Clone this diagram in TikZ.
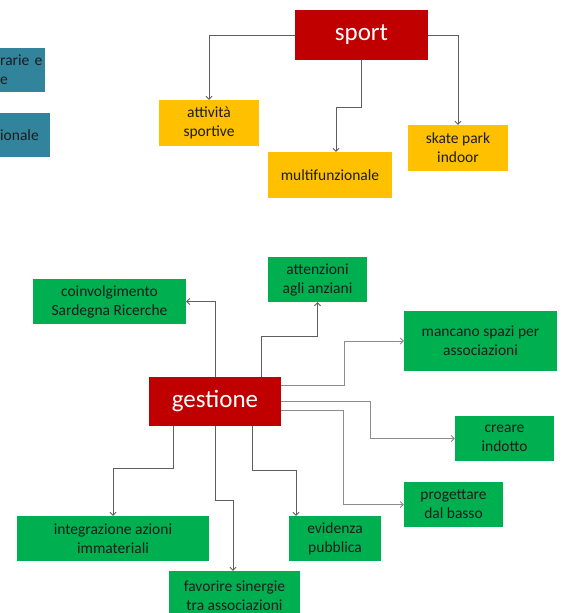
\documentclass[tikz,border=0pt]{standalone}
\usepackage{fontspec}
\setmainfont{Carlito}
\usepackage{tikz}
\usetikzlibrary{arrows.meta}
\definecolor{boxred}{HTML}{C00000}
\definecolor{boxorange}{HTML}{FFC000}
\definecolor{boxgreen}{HTML}{00B050}
\definecolor{boxteal}{HTML}{31849B}
\definecolor{boxtext}{HTML}{1C1C1C}
\definecolor{linegray}{HTML}{5E5E5E}
\definecolor{lightline}{HTML}{8C8C8C}

\begin{document}
\begin{tikzpicture}[x=1pt, y=-1pt,
    base/.style={inner sep=0pt, align=center, text=boxtext,
      font=\fontsize{15.5}{19}\selectfont},
    topic/.style={base, fill=boxred, text=white,
      font=\fontsize{25}{30}\selectfont},
    sportbox/.style={base, fill=boxorange},
    gestbox/.style={base, fill=boxgreen},
    tealbox/.style={base, fill=boxteal, anchor=north west, align=left},
    arrow/.style={-{Straight Barb[length=3pt, width=6pt]},
      line width=0.8pt, color=linegray},
    arrowlight/.style={arrow, color=lightline},
]
\path[use as bounding box, fill=white] (0,0) rectangle (563,613);

\node[tealbox, text width=45pt, minimum height=44pt] (orario) at (0,48)
    {rarie e\\e};
\node[tealbox, text width=50pt, minimum height=44pt] (regionale) at (0,113)
    {ionale};

\node[topic, minimum width=133pt, minimum height=50pt] (sport) at (361.5,35)
    {sport};
\node[sportbox, minimum width=100pt, minimum height=46pt] (attivita) at (209,123)
    {attività\\sportive};
\node[sportbox, minimum width=124pt, minimum height=46pt] (multi) at (330,175)
    {multifunzionale};
\node[sportbox, minimum width=100pt, minimum height=46pt] (skate) at (458,148)
    {skate park\\indoor};

\node[topic, minimum width=132pt, minimum height=49pt] (gestione) at (215,401.5)
    {gestione};
\node[gestbox, minimum width=153pt, minimum height=45pt] (coinvolgimento) at (109.5,301.5)
    {coinvolgimento\\Sardegna Ricerche};
\node[gestbox, minimum width=99pt, minimum height=45pt] (anziani) at (317.5,279.5)
    {attenzioni\\agli anziani};
\node[gestbox, minimum width=153pt, minimum height=60pt] (spazi) at (480.5,341)
    {mancano spazi per\\associazioni};
\node[gestbox, minimum width=99pt, minimum height=45pt] (indotto) at (504.5,438.5)
    {creare\\indotto};
\node[gestbox, minimum width=99pt, minimum height=45pt] (basso) at (453.5,504.5)
    {progettare\\dal basso};
\node[gestbox, minimum width=192pt, minimum height=45pt] (integrazione) at (113,538.5)
    {integrazione azioni\\immateriali};
\node[gestbox, minimum width=92pt, minimum height=45pt] (evidenza) at (335,538.5)
    {evidenza\\pubblica};
\node[gestbox, minimum width=131pt, minimum height=49pt] (sinergie) at (234.5,595.5)
    {favorire sinergie\\tra associazioni};

\draw[arrow] (sport.west) -| (attivita.north);
\draw[arrow] (sport.east) -| (skate.north);
\draw[arrow] (sport.south) -- ++(0,47) -| ([xshift=6pt]multi.north);

\draw[arrow] (gestione.north) |- (coinvolgimento.east);
\draw[arrow] ([xshift=46pt]gestione.north) -- ++(0,-40) -| (anziani.south);
\draw[arrowlight] ([yshift=16.5pt]gestione.east) -- ++(63,0) |- (spazi.west);
\draw[arrowlight] (gestione.east) -- ++(89,0) |- (indotto.west);
\draw[arrowlight] ([yshift=-8.5pt]gestione.east) -- ++(62,0) |- (basso.west);
\draw[arrow] ([xshift=-42pt]gestione.south) -- ++(0,42) -| (integrazione.north);
\draw[arrow] (gestione.south) -- ++(0,74) -| ([xshift=-1.5pt]sinergie.north);
\draw[arrow] ([xshift=37pt]gestione.south) -- ++(0,44) -| ([xshift=-39pt]evidenza.north);
\end{tikzpicture}
\end{document}
